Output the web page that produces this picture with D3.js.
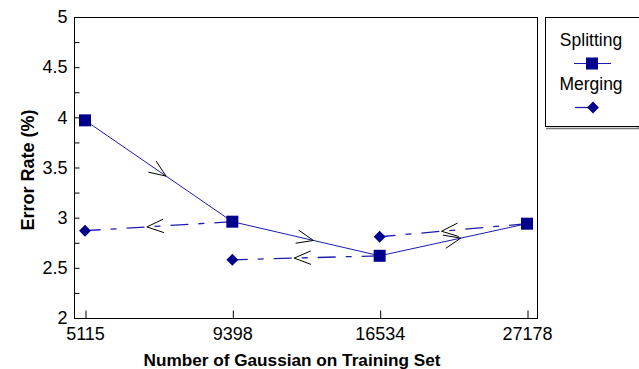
<!DOCTYPE html>
<html>
<head>
<meta charset="utf-8">
<script src="https://cdn.jsdelivr.net/npm/d3@7"></script>
<style>
  body { margin: 0; background: #fff; }
  text { font-family: "Liberation Sans", Arial, sans-serif; }
</style>
</head>
<body>
<svg id="chart" width="639" height="369"></svg>
<script>
// chart values
var categories = ["5115", "9398", "16534", "27178"];
var splitting = [3.97, 2.96, 2.62, 2.94];
var merging = [2.87, 2.58, 2.81];          // at 5115, 9398, 16534
var yTicks = d3.range(2, 5.001, 0.25);

var svg = d3.select("#chart");
var plotLeft = 74, plotRight = 537, plotTop = 17, plotBottom = 318;

var x = d3.scalePoint().domain(categories).range([85, 527]);
var y = d3.scaleLinear().domain([2, 5]).range([plotBottom, plotTop]);

var lineCol = "#1c1cb0";
var markCol = "#00008c";

// frame
svg.append("rect")
  .attr("x", plotLeft + 0.5).attr("y", plotTop + 0.5)
  .attr("width", plotRight - plotLeft).attr("height", plotBottom - plotTop)
  .attr("fill", "none").attr("stroke", "#000").attr("stroke-width", 1);

// y axis
var yAxis = svg.append("g")
  .attr("transform", "translate(" + (plotLeft + 0.5) + ",0)")
  .call(d3.axisLeft(y).tickValues(yTicks).tickSize(-5).tickPadding(7)
    .tickFormat(function(d) { return (Math.round(d * 100) % 50 === 0) ? String(d) : ""; }));
yAxis.select(".domain").remove();
yAxis.selectAll("text").attr("font-size", "18px").attr("fill", "#000")
  .style("font-family", "'Liberation Sans', Arial, sans-serif");

// x axis
var xAxis = svg.append("g")
  .attr("transform", "translate(0," + (plotBottom + 0.5) + ")")
  .call(d3.axisBottom(x).tickSize(-8).tickPadding(9));
xAxis.select(".domain").remove();
xAxis.selectAll("line").attr("transform", "translate(0.5,0)");
xAxis.selectAll("text").attr("font-size", "18px").attr("fill", "#000")
  .style("font-family", "'Liberation Sans', Arial, sans-serif");

// axis titles
svg.append("text")
  .attr("x", 292).attr("y", 366)
  .attr("text-anchor", "middle")
  .attr("font-size", "17.2px").attr("font-weight", "bold")
  .text("Number of Gaussian on Training Set");

svg.append("text")
  .attr("transform", "translate(34,170) rotate(-90)")
  .attr("text-anchor", "middle")
  .attr("font-size", "18px").attr("font-weight", "bold")
  .text("Error Rate (%)");

// splitting line
var splitPts = categories.map(function(c, i) { return [x(c), y(splitting[i])]; });
svg.append("path")
  .attr("d", d3.line()(splitPts))
  .attr("fill", "none").attr("stroke", lineCol).attr("stroke-width", 1);

// merging links: from splitting point i+1 back to merging point i
var mergeLinks = merging.map(function(v, i) {
  return [[x(categories[i + 1]), y(splitting[i + 1])], [x(categories[i]), y(v)]];
});
svg.selectAll(".merge")
  .data(mergeLinks)
  .join("path")
  .attr("class", "merge")
  .attr("d", function(d) { return d3.line()(d); })
  .attr("fill", "none").attr("stroke", lineCol).attr("stroke-width", 1.3)
  .attr("stroke-dasharray", "18,10,6,10");

// open arrowheads
function arrow(a, b, t) {
  var tx = a[0] + (b[0] - a[0]) * t, ty = a[1] + (b[1] - a[1]) * t;
  var ang = Math.atan2(a[1] - b[1], a[0] - b[0]);
  var len = 18, spread = 22 * Math.PI / 180;
  var p1 = [tx + len * Math.cos(ang + spread), ty + len * Math.sin(ang + spread)];
  var p2 = [tx + len * Math.cos(ang - spread), ty + len * Math.sin(ang - spread)];
  return "M" + p1 + "L" + [tx, ty] + "L" + p2;
}
var splitSegs = d3.pairs(splitPts);
svg.selectAll(".sarrow")
  .data(splitSegs)
  .join("path")
  .attr("class", "sarrow")
  .attr("d", function(d) { return arrow(d[0], d[1], 0.55); })
  .attr("fill", "none").attr("stroke", "#000").attr("stroke-width", 1);
svg.selectAll(".marrow")
  .data(mergeLinks)
  .join("path")
  .attr("class", "marrow")
  .attr("d", function(d) { return arrow(d[0], d[1], 0.58); })
  .attr("fill", "none").attr("stroke", "#000").attr("stroke-width", 1);

// markers
var sq = 12;
svg.selectAll(".sq")
  .data(splitPts)
  .join("rect")
  .attr("class", "sq")
  .attr("x", function(d) { return d[0] - sq / 2; })
  .attr("y", function(d) { return d[1] - sq / 2; })
  .attr("width", sq).attr("height", sq)
  .attr("fill", markCol);

var diamond = d3.symbol().type(d3.symbolDiamond2).size(90);
svg.selectAll(".dm")
  .data(merging)
  .join("path")
  .attr("class", "dm")
  .attr("transform", function(d, i) { return "translate(" + x(categories[i]) + "," + y(d) + ")"; })
  .attr("d", diamond)
  .attr("fill", markCol);

// legend
var lg = svg.append("g");
lg.append("path")
  .attr("d", "M546,128.5H639M638.5,18V128")
  .attr("stroke", "#777").attr("stroke-width", 1.5).attr("fill", "none");
lg.append("rect")
  .attr("x", 545.5).attr("y", 17.5).attr("width", 100).attr("height", 109)
  .attr("fill", "#fff").attr("stroke", "#000").attr("stroke-width", 1);
lg.append("text").attr("x", 591).attr("y", 46).attr("text-anchor", "middle")
  .attr("font-size", "17.5px").text("Splitting");
lg.append("line").attr("x1", 574).attr("x2", 611).attr("y1", 63.5).attr("y2", 63.5)
  .attr("stroke", lineCol).attr("stroke-width", 1);
lg.append("rect").attr("x", 592 - sq / 2).attr("y", 63.5 - sq / 2)
  .attr("width", sq).attr("height", sq).attr("fill", markCol);
lg.append("text").attr("x", 591).attr("y", 90).attr("text-anchor", "middle")
  .attr("font-size", "17.5px").text("Merging");
lg.append("line").attr("x1", 575).attr("x2", 593).attr("y1", 107.5).attr("y2", 107.5)
  .attr("stroke", lineCol).attr("stroke-width", 1.3);
lg.append("path").attr("transform", "translate(593,107.5)").attr("d", diamond).attr("fill", markCol);
</script>
</body>
</html>
